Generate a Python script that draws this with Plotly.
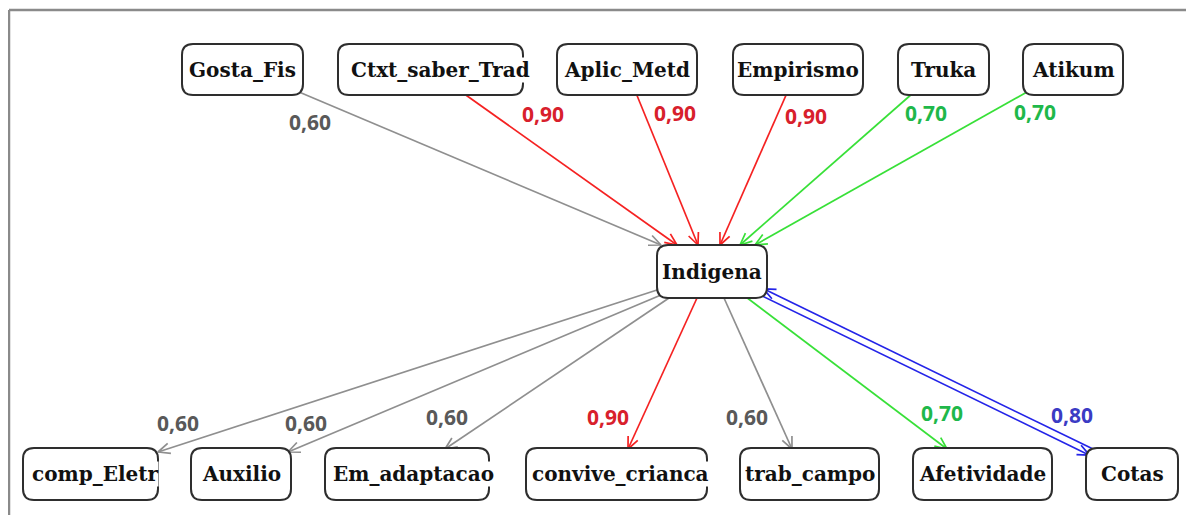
import math
import plotly.graph_objects as go

# ---------------- data ----------------
top_nodes = ["Gosta_Fis", "Ctxt_saber_Trad", "Aplic_Metd", "Empirismo", "Truka", "Atikum"]
center_node = "Indigena"
bottom_nodes = ["comp_Eletr", "Auxilio", "Em_adaptacao", "convive_crianca",
                "trab_campo", "Afetividade", "Cotas"]

edge_source = ["Gosta_Fis", "Ctxt_saber_Trad", "Aplic_Metd", "Empirismo", "Truka", "Atikum",
               "Indigena", "Indigena", "Indigena", "Indigena", "Indigena", "Indigena", "Indigena"]
edge_target = ["Indigena"] * 6 + ["comp_Eletr", "Auxilio", "Em_adaptacao", "convive_crianca",
                                  "trab_campo", "Afetividade", "Cotas"]
edge_weight = [0.60, 0.90, 0.90, 0.90, 0.70, 0.70,
               0.60, 0.60, 0.60, 0.90, 0.60, 0.70, 0.80]
edge_group = ["gray", "red", "red", "red", "green", "green",
              "gray", "gray", "gray", "red", "gray", "green", "blue"]
edge_bidirectional = [False] * 12 + [True]

# ---------------- layout / style ----------------
W, H = 1194, 515
OFF = 8  # page body margin
line_colors = {"gray": "#8f8f8f", "red": "#f52222", "green": "#38e038", "blue": "#2424e8"}
label_colors = {"gray": "#595959", "red": "#d8202c", "green": "#1fb84a", "blue": "#3b3bc4"}

# node boxes: center x, center y, width, height
node_box = {
    "Gosta_Fis": (242.5, 69.5, 121, 51),
    "Ctxt_saber_Trad": (430.5, 69.5, 185, 51),
    "Aplic_Metd": (627, 69.5, 140, 51),
    "Empirismo": (798, 69.5, 130, 51),
    "Truka": (943.5, 69.5, 91, 51),
    "Atikum": (1073, 69.5, 100, 51),
    "Indigena": (712, 271.5, 110, 53),
    "comp_Eletr": (90.5, 474, 135, 52),
    "Auxilio": (241, 474, 100, 52),
    "Em_adaptacao": (407, 474, 164, 52),
    "convive_crianca": (616.5, 474, 181, 52),
    "trab_campo": (809.5, 474, 139, 52),
    "Afetividade": (982.5, 474, 139, 52),
    "Cotas": (1132, 474, 92, 52),
}
node_text_dx = {"Ctxt_saber_Trad": 10, "comp_Eletr": 4, "Em_adaptacao": 6, "convive_crianca": 4}

# edge anchor points (start, end) in pixel space
edge_anchor = [
    ((299, 92), (661, 245)),
    ((463, 93), (677, 245)),
    ((636, 93), (698, 245)),
    ((787, 93), (720, 245)),
    ((913, 93), (740, 245)),
    ((1027, 92), (755, 245)),
    ((657, 290), (158, 452)),
    ((661, 295), (288, 452)),
    ((669, 298), (445, 449)),
    ((697, 298), (628, 449)),
    ((724, 298), (792, 449)),
    ((746, 297), (947, 449)),
    ((762, 292), (1091, 452)),
]
label_pos = [
    (310, 122), (543, 114), (675, 113), (806, 116), (926, 113), (1035, 112),
    (178, 423), (306, 423), (447, 417), (608, 417), (747, 417), (942, 413), (1072, 415),
]

fig = go.Figure()
shapes = []
annotations = []


def rounded_rect(cx, cy, w, h, r=11):
    x0, x1 = cx - w / 2, cx + w / 2
    y0, y1 = cy - h / 2, cy + h / 2
    return (f"M {x0 + r},{y0} L {x1 - r},{y0} Q {x1},{y0} {x1},{y0 + r} "
            f"L {x1},{y1 - r} Q {x1},{y1} {x1 - r},{y1} L {x0 + r},{y1} "
            f"Q {x0},{y1} {x0},{y1 - r} L {x0},{y0 + r} Q {x0},{y0} {x0 + r},{y0} Z")


def add_arrow_line(p0, p1, color, width=1.7):
    (x0, y0), (x1, y1) = p0, p1
    dx, dy = x1 - x0, y1 - y0
    L = math.hypot(dx, dy)
    ux, uy = dx / L, dy / L
    alen, ang = 13, math.radians(24)
    pts = []
    for s in (1, -1):
        ca, sa = math.cos(s * ang), math.sin(s * ang)
        bx = -(ux * ca - uy * sa)
        by = -(ux * sa + uy * ca)
        pts.append((x1 + alen * bx, y1 + alen * by))
    xs = [x0, x1, None, pts[0][0], x1, pts[1][0]]
    ys = [y0, y1, None, pts[0][1], y1, pts[1][1]]
    fig.add_trace(go.Scatter(x=xs, y=ys, mode="lines",
                             line=dict(color=color, width=width),
                             hoverinfo="skip", showlegend=False))


# edges
for i, (s, t) in enumerate(zip(edge_source, edge_target)):
    col = line_colors[edge_group[i]]
    p0, p1 = edge_anchor[i]
    if edge_bidirectional[i]:
        dx, dy = p1[0] - p0[0], p1[1] - p0[1]
        L = math.hypot(dx, dy)
        nx, ny = -dy / L * 3.5, dx / L * 3.5
        add_arrow_line((p0[0] + nx, p0[1] + ny), (p1[0] + nx, p1[1] + ny), col)
        add_arrow_line((p1[0] - nx, p1[1] - ny), (p0[0] - nx, p0[1] - ny), col)
    else:
        add_arrow_line(p0, p1, col)
    lx, ly = label_pos[i]
    annotations.append(dict(
        x=lx, y=ly, xref="x", yref="y", showarrow=False,
        text=f"{edge_weight[i]:.2f}".replace(".", ","),
        font=dict(family="Open Sans", size=21, color=label_colors[edge_group[i]], weight="bold"),
    ))

# nodes
for name in top_nodes + [center_node] + bottom_nodes:
    cx, cy, w, h = node_box[name]
    shapes.append(dict(type="path", path=rounded_rect(cx, cy, w, h), xref="x", yref="y",
                       line=dict(color="#2e2e2e", width=2), fillcolor="white", layer="above"))
    annotations.append(dict(
        x=cx + node_text_dx.get(name, 0), y=cy, xref="x", yref="y", showarrow=False, text=name,
        bgcolor="white", borderpad=0,
        font=dict(family="DejaVu Serif", size=20, color="#111111", weight="bold"),
    ))

# frame (top and left border)
shapes.append(dict(type="line", xref="x", yref="y", x0=9, y0=10, x1=W + 20, y1=10,
                   line=dict(color="#8a8a8a", width=2.5)))
shapes.append(dict(type="line", xref="x", yref="y", x0=9, y0=10, x1=9, y1=H + 20,
                   line=dict(color="#8a8a8a", width=2.5)))

fig.update_layout(
    width=W, height=H,
    margin=dict(l=0, r=0, t=0, b=0),
    paper_bgcolor="white", plot_bgcolor="white",
    xaxis=dict(range=[OFF, W + OFF], visible=False, fixedrange=True),
    yaxis=dict(range=[H + OFF, OFF], visible=False, fixedrange=True),
    shapes=shapes, annotations=annotations, showlegend=False,
)

fig.write_html("out.html")
